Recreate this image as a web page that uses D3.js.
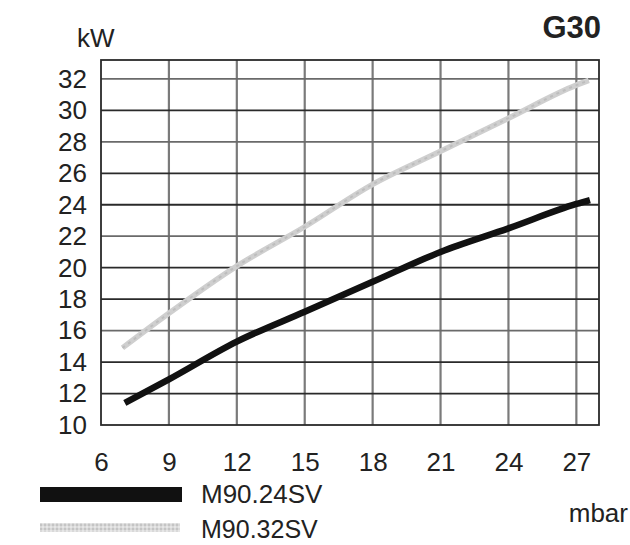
<!DOCTYPE html>
<html>
<head>
<meta charset="utf-8">
<script src="https://cdn.jsdelivr.net/npm/d3@7"></script>
<style>
  html, body { margin: 0; padding: 0; background: #fff; }
  svg { display: block; }
  text { font-family: "Liberation Sans", Arial, Helvetica, sans-serif; fill: #222; }
</style>
</head>
<body>
<svg id="chart" width="630" height="545"></svg>
<script>
// ---- data ----
const pressure24 = [7.05, 9, 12, 15, 18, 21, 24, 27, 27.6];
const power24    = [11.4, 12.9, 15.3, 17.2, 19.1, 21.0, 22.5, 24.05, 24.3];
const pressure32 = [6.95, 9, 12, 15, 18, 21, 24, 27, 27.55];
const power32    = [14.9, 17.1, 20.1, 22.6, 25.3, 27.4, 29.5, 31.6, 31.9];
const xTicks = [6, 9, 12, 15, 18, 21, 24, 27];
const yTicks = [10, 12, 14, 16, 18, 20, 22, 24, 26, 28, 30, 32];
const seriesNames = ["M90.24SV", "M90.32SV"];

// ---- layout ----
const svg = d3.select("#chart");
const plot = { left: 101, right: 599, top: 60, bottom: 425 };
const x = d3.scaleLinear().domain([6, 28]).range([plot.left, plot.right]);
const y = d3.scaleLinear().domain([10, 33.2]).range([plot.bottom, plot.top]);

// pattern for the light grey textured line
const defs = svg.append("defs");
const pat = defs.append("pattern").attr("id", "hatch").attr("patternUnits", "userSpaceOnUse")
  .attr("width", 4).attr("height", 4);
pat.append("rect").attr("width", 4).attr("height", 4).attr("fill", "#d9d9d9");
pat.append("rect").attr("x", 0).attr("y", 0).attr("width", 2).attr("height", 2).attr("fill", "#c4c4c4");
pat.append("rect").attr("x", 2).attr("y", 2).attr("width", 2).attr("height", 2).attr("fill", "#e6e6e6");

// ---- grid ----
const g = svg.append("g");
g.selectAll("line.v").data(xTicks.slice(1)).enter().append("line")
  .attr("x1", d => x(d)).attr("x2", d => x(d))
  .attr("y1", plot.top).attr("y2", plot.bottom)
  .attr("stroke", "#7a7a7a").attr("stroke-width", 2.2);
g.selectAll("line.h").data(yTicks.slice(1)).enter().append("line")
  .attr("x1", plot.left).attr("x2", plot.right)
  .attr("y1", d => y(d)).attr("y2", d => y(d))
  .attr("stroke", d => (d === 32 || d === 28 || d === 22 || d === 16) ? "#6a6a6a" : "#2a2a2a")
  .attr("stroke-width", 1.8);
g.append("rect")
  .attr("x", plot.left).attr("y", plot.top)
  .attr("width", plot.right - plot.left).attr("height", plot.bottom - plot.top)
  .attr("fill", "none").attr("stroke", "#2a2a2a").attr("stroke-width", 1.8);

// ---- axes labels ----
const yAxis = d3.axisLeft(y).tickValues(yTicks).tickSize(0).tickPadding(14);
const ya = svg.append("g").attr("transform", `translate(${plot.left},0)`).call(yAxis);
ya.select(".domain").remove();
ya.selectAll("text").attr("font-size", 26).attr("fill", "#222")
  .style("font-family", "'Liberation Sans', Arial, sans-serif");

const xAxis = d3.axisBottom(x).tickValues(xTicks).tickSize(0).tickPadding(28);
const xa = svg.append("g").attr("transform", `translate(0,${plot.bottom})`).call(xAxis);
xa.select(".domain").remove();
xa.selectAll("text").attr("font-size", 26).attr("fill", "#222")
  .style("font-family", "'Liberation Sans', Arial, sans-serif");

svg.append("text").attr("x", 77).attr("y", 47).attr("font-size", 26).text("kW");
svg.append("text").attr("x", 601).attr("y", 38).attr("text-anchor", "end")
  .attr("font-size", 31).attr("font-weight", "bold").attr("fill", "#111").text("G30");
svg.append("text").attr("x", 628).attr("y", 522).attr("text-anchor", "end")
  .attr("font-size", 26).text("mbar");

// ---- curves ----
const line = d3.line().x(d => x(d[0])).y(d => y(d[1])).curve(d3.curveMonotoneX);
const d32 = pressure32.map((p, i) => [p, power32[i]]);
const d24 = pressure24.map((p, i) => [p, power24[i]]);
svg.append("path").attr("d", line(d32)).attr("fill", "none")
  .attr("stroke", "#cfcfcf").attr("stroke-width", 5.5);
svg.append("path").attr("d", line(d32)).attr("fill", "none")
  .attr("stroke", "#bdbdbd").attr("stroke-width", 2).attr("stroke-dasharray", "3,4");
svg.append("path").attr("d", line(d24)).attr("fill", "none")
  .attr("stroke", "#111").attr("stroke-width", 6.5);

// ---- legend ----
svg.append("rect").attr("x", 40).attr("y", 487).attr("width", 142).attr("height", 15).attr("fill", "#111");
svg.append("text").attr("x", 201).attr("y", 503).attr("font-size", 26).text(seriesNames[0]);
svg.append("rect").attr("x", 40).attr("y", 523).attr("width", 140).attr("height", 9).attr("fill", "url(#hatch)");
svg.append("text").attr("x", 201).attr("y", 538).attr("font-size", 25).text(seriesNames[1]);
</script>
</body>
</html>
